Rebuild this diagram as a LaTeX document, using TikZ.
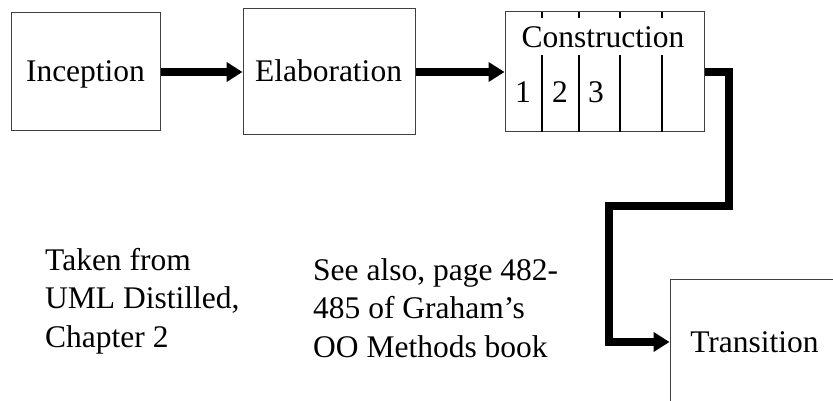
\documentclass[tikz,border=0pt]{standalone}
\usepackage{fontspec}
\setmainfont{Liberation Serif}
\usetikzlibrary{arrows.meta}
\begin{document}
\begin{tikzpicture}[x=1pt,y=-1pt,
  phasebox/.style={draw=black!75,line width=1pt,rectangle,inner sep=0pt},
  lbl/.style={font=\fontsize{31.5}{38.5}\selectfont,inner sep=0pt,anchor=base},
  note/.style={font=\fontsize{31.5}{38.5}\selectfont,inner sep=0pt,align=left,anchor=base west},
  flow/.style={line width=8.5pt,-{Triangle[length=16pt,width=19pt]}},
  route/.style={line width=7.5pt,line join=miter,-{Triangle[length=16pt,width=19pt]}},
  divider/.style={line width=1.3pt,black}]
\useasboundingbox (0,0) rectangle (833,401);
\clip (0,0) rectangle (833,401);
\node[phasebox,minimum width=149pt,minimum height=118pt] (inc) at (86.2,72) {};
\node[phasebox,minimum width=172pt,minimum height=126pt] (ela) at (329,72) {};
\node[phasebox,minimum width=199pt,minimum height=120pt] (con) at (604.5,72) {};
\node[phasebox,minimum width=200pt,minimum height=126pt] (tra) at (770,342) {};
\node[lbl] (incl) at (85.5,82) {Inception};
\node[lbl] (elal) at (328.5,82) {Elaboration};
\node[lbl] (conl) at (603,48) {Construction};
\node[lbl] (n1) at (523,103) {1};
\node[lbl] (n2) at (560,103) {2};
\node[lbl] (n3) at (596,103) {3};
\node[lbl] (tral) at (754.5,352) {Transition};
\foreach \dx in {542,579,620,662}{
  \draw[divider] (\dx,12) -- (\dx,18);
  \draw[divider] (\dx,55) -- (\dx,132);
}
\draw[flow] (inc.east) -- (ela.west);
\draw[flow] (ela.east) -- (con.west);
\coordinate (r1) at (729,72);
\coordinate (r2) at (729,206);
\coordinate (r3) at (609,206);
\coordinate (r4) at (609,342);
\draw[route] (con.east) -- (r1) -- (r2) -- (r3) -- (r4) -- (tra.west);
\node[note] (src) at (45,347) {Taken from\\UML Distilled,\\Chapter 2};
\node[note] (ref) at (313,357) {See also, page 482-\\485 of Graham’s\\OO Methods book};
\end{tikzpicture}
\end{document}
